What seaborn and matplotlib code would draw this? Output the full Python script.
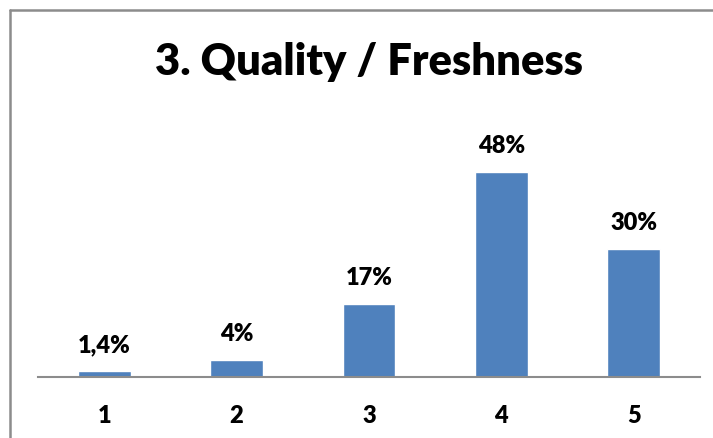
import matplotlib
matplotlib.use("Agg")
import matplotlib.pyplot as plt
import seaborn as sns
import pandas as pd
from matplotlib.lines import Line2D

categories = ["1", "2", "3", "4", "5"]
values = [1.4, 4, 17, 48, 30]
labels = ["1,4%", "4%", "17%", "48%", "30%"]
title = "3. Quality / Freshness"

sns.set_theme(style="white")
plt.rcParams['font.family'] = ['Lato', 'DejaVu Sans']

W, H = 713, 438
fig = plt.figure(figsize=(W / 100, H / 100), dpi=100)
ax = fig.add_axes([38 / W, 61 / H, (700 - 38) / W, (377 - 121) / H])

df = pd.DataFrame({"cat": categories, "val": values})
sns.barplot(data=df, x="cat", y="val", color="#4F81BD", saturation=1,
            width=0.4, ax=ax)

ax.set_ylim(0, 60)
ax.set_xlim(-0.5, 4.5)
for s in ["top", "right", "left"]:
    ax.spines[s].set_visible(False)
ax.spines["bottom"].set_color("#8c8c8c")
ax.spines["bottom"].set_linewidth(1.5)
ax.set_yticks([])
ax.set_xlabel("")
ax.set_ylabel("")
ax.tick_params(axis="x", length=0, pad=20)
ax.set_xticks(range(len(categories)))
ax.set_xticklabels(categories, fontsize=17, fontweight="heavy", color="black")

for i, (v, lab) in enumerate(zip(values, labels)):
    ax.annotate(lab, (i, v), xytext=(0, 18.7), textcoords="offset points",
                ha="center", va="center", fontsize=17, fontweight="heavy",
                color="black")

fig.text(369 / W, 1 - 62 / H, title, ha="center", va="center",
         fontsize=31.3, fontweight="heavy", color="black")

# chart border (left and top edges visible)
fig.add_artist(Line2D([10 / W, 10 / W], [0, 1 - 10 / H], transform=fig.transFigure,
                      color="#8c8c8c", lw=1.8))
fig.add_artist(Line2D([10 / W, 1], [1 - 10 / H, 1 - 10 / H], transform=fig.transFigure,
                      color="#8c8c8c", lw=1.8))

fig.savefig("out.png", dpi=100, facecolor="white")
